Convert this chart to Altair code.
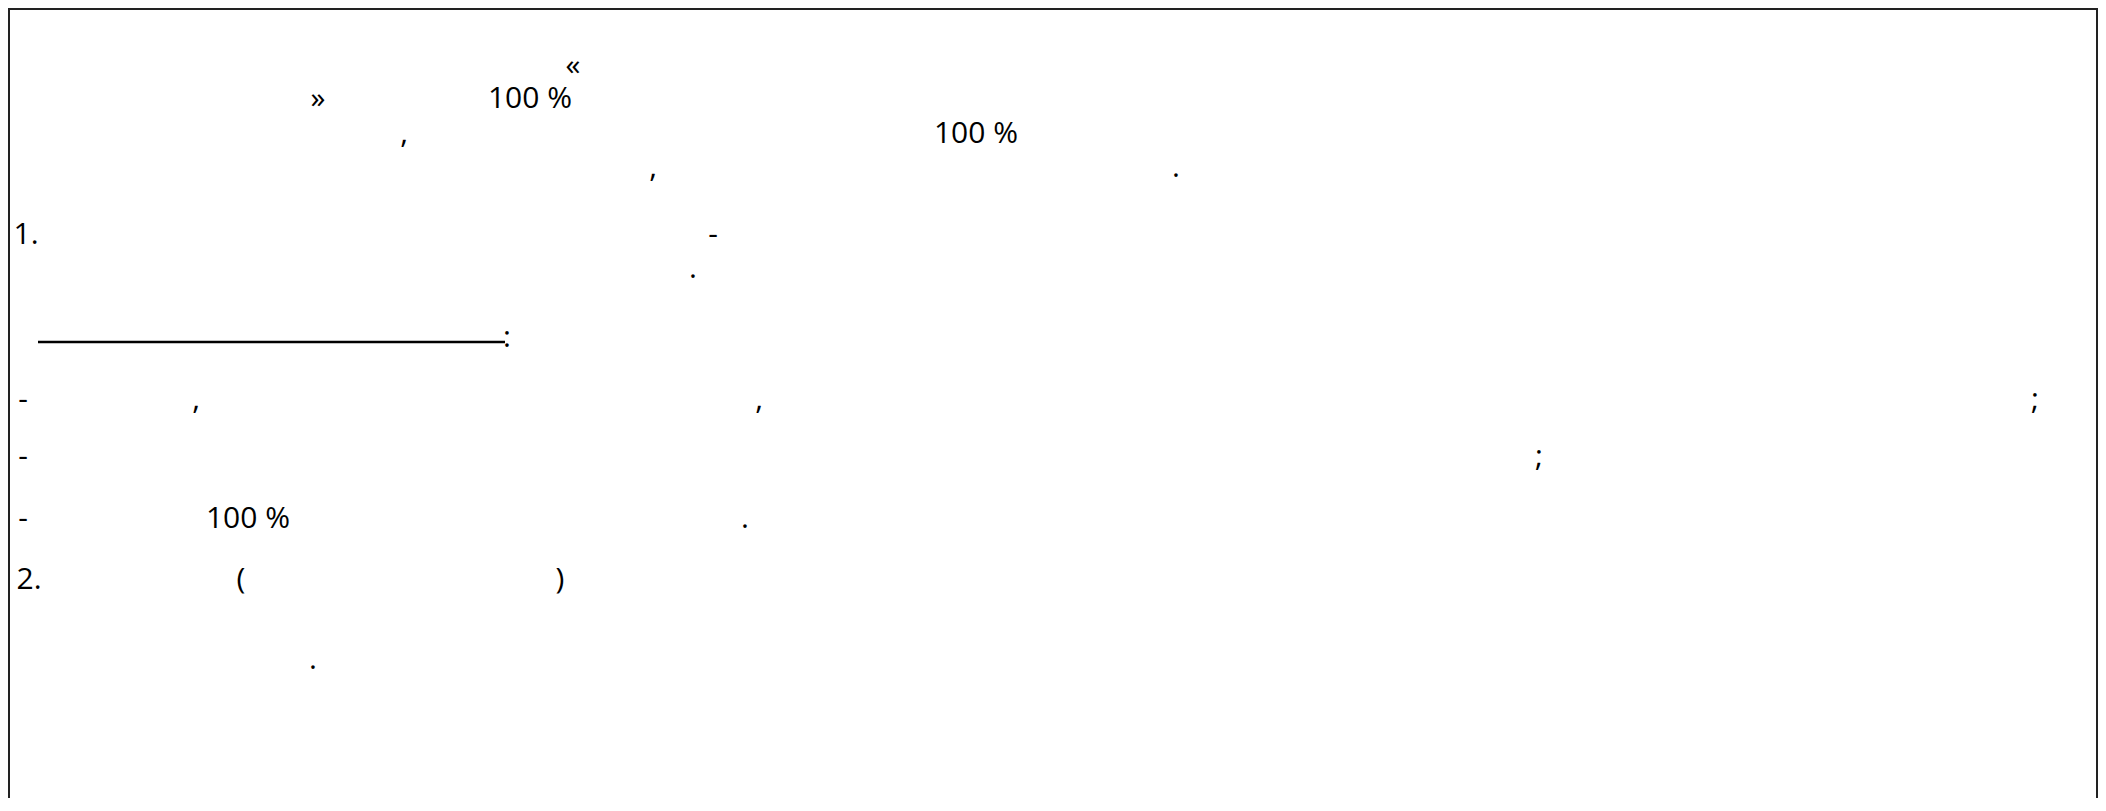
import altair as alt
import pandas as pd

# Visible glyphs of the document (the letters of the original text are not rendered in the reference)
tokens = ["«", "»", "100 %", ",", "100 %", ",", ".",
          "1.", "-", ".", ":",
          "-", ",", ",", ";",
          "-", ";",
          "-", "100 %", ".",
          "2.", "(", ")", "."]
token_x = [573, 318, 530, 404, 976, 653, 1176,
           26, 713, 693, 507,
           23, 196, 759, 2035,
           23, 1539,
           23, 248, 745,
           29, 241, 560, 313]
token_line = [0, 1, 1, 2, 2, 3, 3,
              4, 4, 5, 6,
              7, 7, 7, 7,
              8, 8,
              9, 9, 9,
              10, 10, 10, 11]
line_baseline = [75, 108, 143, 177, 244, 278, 347, 409, 466, 528, 589, 669]

# underline segment (page coordinates)
underline_x = [38]
underline_x2 = [505]
underline_y = [342]

# frame segments: top, left, right
frame_x = [8, 9, 2097]
frame_x2 = [2098, 9, 2097]
frame_y = [9, 8, 8]
frame_y2 = [9, 798, 798]

W, H = 2090, 790
xs = alt.Scale(domain=[8, 8 + W], range=[0, W], nice=False, zero=False)
ys = alt.Scale(domain=[8, 8 + H], range=[0, H], nice=False, zero=False)

text_df = pd.DataFrame({
    "t": tokens,
    "x": token_x,
    "y": [line_baseline[i] for i in token_line],
})
ul_df = pd.DataFrame({"x": underline_x, "x2": underline_x2, "y": underline_y})
fr_df = pd.DataFrame({"x": frame_x, "x2": frame_x2, "y": frame_y, "y2": frame_y2})

frame = alt.Chart(fr_df).mark_rule(color="#222222", strokeWidth=2).encode(
    x=alt.X("x:Q", scale=xs, axis=None),
    x2="x2:Q",
    y=alt.Y("y:Q", scale=ys, axis=None),
    y2="y2:Q",
)

underline = alt.Chart(ul_df).mark_rule(color="#000000", strokeWidth=2.5).encode(
    x=alt.X("x:Q", scale=xs, axis=None),
    x2="x2:Q",
    y=alt.Y("y:Q", scale=ys, axis=None),
)

text = alt.Chart(text_df).mark_text(
    font="Open Sans", fontSize=30, color="#000000",
    align="center", baseline="alphabetic",
).encode(
    x=alt.X("x:Q", scale=xs, axis=None),
    y=alt.Y("y:Q", scale=ys, axis=None),
    text="t:N",
)

chart = alt.layer(frame, underline, text).properties(
    width=W, height=H, padding=0, autosize=alt.AutoSizeParams(type="none"),
    background="#ffffff",
).configure_view(stroke=None)

chart.save("out.html", embed_options={"renderer": "svg", "actions": False})
